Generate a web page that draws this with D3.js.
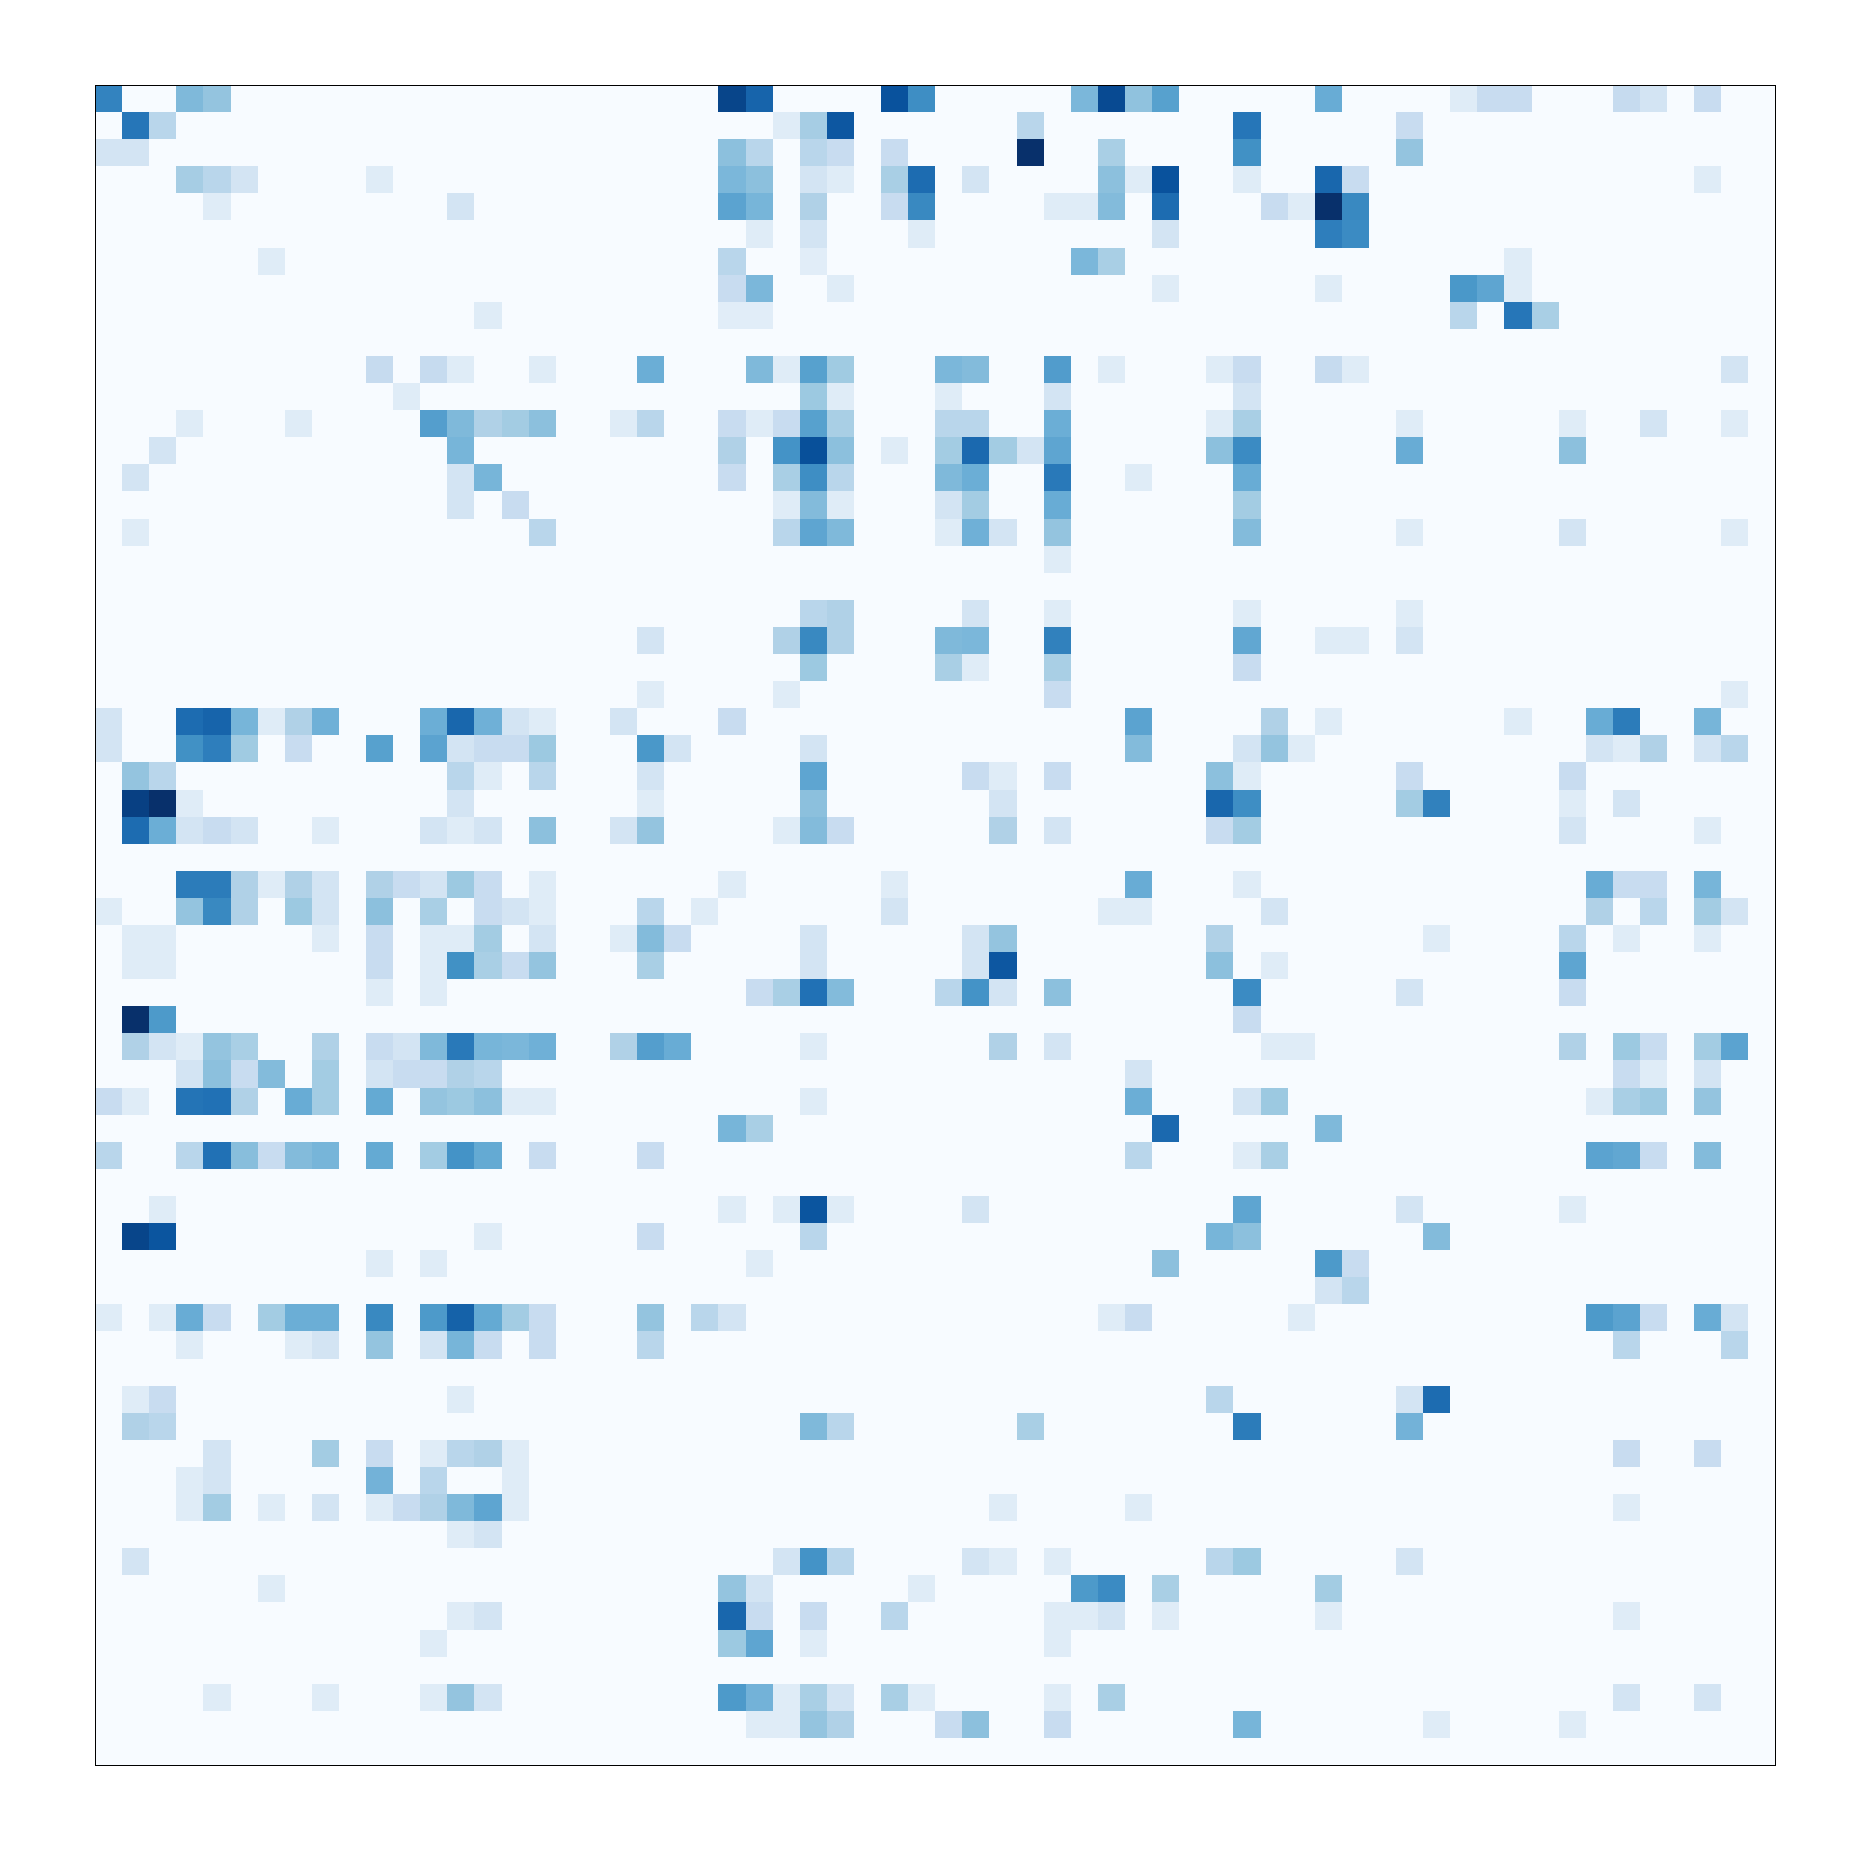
<!DOCTYPE html>
<meta charset="utf-8">
<style>
body { margin: 0; background: #fff; }
.cell { shape-rendering: crispEdges; }
.frame { fill: none; stroke: #000; stroke-width: 1px; }
</style>
<body>
<script src="https://d3js.org/d3.v7.min.js"></script>
<script>

// row and column ids, the axes carry no labels in the picture
const rowIds = d3.range(62),
      colIds = d3.range(62);

// same stops as the Blues colormap
const blues = ["#f7fbff", "#deebf7", "#c6dbef", "#9ecae1", "#6baed6", "#4292c6", "#2171b5", "#08519c", "#08306b"];

// sparse rows: [column, value] on a 0-100 scale, anything missing is 0
const values = [
  [[0,68],[3,45],[4,40],[23,92],[24,80],[29,87],[30,64],[36,46],[37,90],[38,41],[39,56],[45,51],[50,12],[51,24],[52,24],[56,25],[57,18],[59,24]],
  [[1,73],[2,29],[25,12],[26,35],[27,85],[34,29],[42,73],[48,24]],
  [[0,18],[1,18],[23,42],[24,29],[26,29],[27,24],[29,24],[34,100],[37,34],[42,63],[48,40]],
  [[3,35],[4,29],[5,18],[10,12],[23,46],[24,42],[26,18],[27,12],[29,34],[30,77],[32,18],[37,42],[38,12],[39,87],[42,12],[45,79],[46,24],[59,12]],
  [[4,12],[13,18],[23,55],[24,47],[26,32],[29,24],[30,66],[35,12],[36,12],[37,44],[39,77],[43,24],[44,12],[45,100],[46,66]],
  [[24,12],[26,18],[30,12],[39,18],[45,70],[46,65]],
  [[6,12],[23,29],[26,11],[36,46],[37,34],[52,12]],
  [[23,24],[24,46],[27,12],[39,12],[45,12],[50,60],[51,54],[52,12]],
  [[14,12],[23,11],[24,11],[50,29],[52,73],[53,34]],
  [],
  [[10,25],[12,25],[13,12],[16,12],[20,50],[24,45],[25,12],[26,56],[27,37],[31,46],[32,44],[35,58],[37,12],[41,12],[42,24],[45,25],[46,12],[60,18]],
  [[11,12],[26,38],[27,12],[31,12],[35,18],[42,18]],
  [[3,12],[7,12],[12,57],[13,45],[14,32],[15,36],[16,42],[19,12],[20,29],[23,24],[24,12],[25,24],[26,56],[27,34],[31,29],[32,29],[35,50],[41,12],[42,34],[48,12],[54,12],[57,18],[60,12]],
  [[2,18],[13,47],[23,32],[25,62],[26,88],[27,42],[29,12],[31,36],[32,78],[33,36],[34,18],[35,54],[41,42],[42,65],[48,51],[54,42]],
  [[1,18],[13,18],[14,47],[23,24],[25,34],[26,64],[27,29],[31,45],[32,50],[35,72],[38,12],[42,51]],
  [[13,18],[15,24],[25,12],[26,44],[27,12],[31,18],[32,36],[35,51],[42,36]],
  [[1,12],[16,29],[25,29],[26,54],[27,45],[31,12],[32,49],[33,18],[35,40],[42,44],[48,12],[54,18],[60,12]],
  [[35,12]],
  [],
  [[26,29],[27,32],[32,18],[35,12],[42,12],[48,12]],
  [[20,18],[25,32],[26,66],[27,32],[31,45],[32,46],[35,69],[42,53],[45,12],[46,12],[48,18]],
  [[26,38],[31,34],[32,12],[35,34],[42,24]],
  [[20,12],[25,12],[35,24],[60,12]],
  [[0,18],[3,77],[4,80],[5,47],[6,12],[7,32],[8,49],[12,50],[13,79],[14,49],[15,18],[16,12],[19,18],[23,24],[38,55],[43,32],[45,12],[52,12],[55,51],[56,71],[59,47]],
  [[0,18],[3,63],[4,70],[5,37],[7,24],[10,56],[12,55],[13,18],[14,24],[15,24],[16,38],[20,60],[21,18],[26,18],[38,44],[42,18],[43,40],[44,12],[55,18],[56,12],[57,32],[59,18],[60,29]],
  [[1,40],[2,29],[13,29],[14,12],[16,29],[20,18],[26,54],[32,24],[33,12],[35,24],[41,42],[42,12],[48,24],[54,24]],
  [[1,94],[2,100],[3,12],[13,18],[20,12],[26,42],[33,18],[41,79],[42,64],[48,36],[49,69],[54,12],[56,18]],
  [[1,77],[2,50],[3,18],[4,24],[5,18],[8,12],[12,18],[13,12],[14,18],[16,42],[19,18],[20,40],[25,12],[26,44],[27,24],[33,32],[35,18],[41,24],[42,36],[54,18],[59,12]],
  [],
  [[3,71],[4,71],[5,32],[6,12],[7,32],[8,18],[10,32],[11,24],[12,18],[13,38],[14,24],[16,12],[23,12],[29,12],[38,51],[42,12],[55,51],[56,24],[57,24],[59,47]],
  [[0,12],[3,40],[4,66],[5,32],[7,38],[8,18],[10,42],[12,34],[14,24],[15,18],[16,12],[20,29],[22,12],[29,18],[37,12],[38,12],[43,18],[55,32],[57,29],[59,36],[60,18]],
  [[1,12],[2,12],[8,12],[10,24],[12,12],[13,12],[14,36],[16,18],[19,12],[20,44],[21,24],[26,18],[32,18],[33,40],[41,32],[49,12],[54,29],[56,12],[59,12]],
  [[1,12],[2,12],[10,24],[12,12],[13,63],[14,34],[15,24],[16,40],[20,34],[26,18],[32,18],[33,85],[41,42],[43,12],[54,54]],
  [[10,12],[12,12],[24,24],[25,34],[26,75],[27,44],[31,29],[32,62],[33,18],[35,42],[42,65],[48,18],[54,24]],
  [[1,100],[2,59],[42,24]],
  [[1,32],[2,18],[3,12],[4,40],[5,34],[8,32],[10,24],[11,18],[12,45],[13,72],[14,47],[15,46],[16,49],[19,32],[20,57],[21,51],[26,12],[33,32],[35,18],[43,12],[44,12],[54,32],[56,38],[57,24],[59,36],[60,55]],
  [[3,18],[4,42],[5,24],[6,44],[8,36],[10,18],[11,24],[12,24],[13,32],[14,29],[38,18],[56,24],[57,12],[59,18]],
  [[0,24],[1,12],[3,74],[4,75],[5,32],[7,51],[8,36],[10,52],[12,40],[13,38],[14,42],[15,12],[16,12],[26,12],[38,50],[42,18],[43,38],[55,12],[56,34],[57,38],[59,40]],
  [[23,47],[24,34],[39,78],[45,45]],
  [[0,29],[3,29],[4,75],[5,43],[6,24],[7,44],[8,47],[10,52],[12,36],[13,62],[14,52],[16,24],[20,24],[38,29],[42,12],[43,34],[55,55],[56,53],[57,24],[59,44]],
  [],
  [[2,12],[23,12],[25,12],[26,86],[27,12],[32,18],[42,54],[48,18],[54,12]],
  [[1,92],[2,86],[14,12],[20,24],[26,29],[41,47],[42,42],[49,44]],
  [[10,12],[12,12],[24,12],[39,42],[45,59],[46,24]],
  [[45,18],[46,29]],
  [[0,12],[2,12],[3,51],[4,24],[6,36],[7,50],[8,50],[10,66],[12,59],[13,81],[14,52],[15,36],[16,24],[20,40],[22,29],[23,18],[37,12],[38,24],[44,12],[55,59],[56,55],[57,24],[59,51],[60,18]],
  [[3,12],[7,12],[8,18],[10,40],[12,18],[13,47],[14,24],[16,24],[20,29],[56,29],[60,29]],
  [],
  [[1,12],[2,24],[13,12],[41,29],[48,18],[49,77]],
  [[1,32],[2,29],[26,45],[27,29],[34,34],[42,71],[48,48]],
  [[4,18],[8,36],[10,24],[12,12],[13,29],[14,32],[15,12],[56,24],[59,24]],
  [[3,12],[4,18],[10,48],[12,29],[15,12]],
  [[3,12],[4,36],[6,12],[8,18],[10,12],[11,24],[12,32],[13,45],[14,54],[15,12],[33,12],[38,12],[56,12]],
  [[13,12],[14,18]],
  [[1,18],[25,18],[26,62],[27,29],[32,18],[33,12],[35,12],[41,29],[42,38],[48,18]],
  [[6,12],[23,40],[24,18],[30,12],[36,59],[37,65],[39,34],[45,36]],
  [[13,12],[14,18],[23,79],[24,24],[26,24],[29,29],[35,12],[36,12],[37,18],[39,12],[45,12],[56,12]],
  [[12,12],[23,38],[24,54],[26,12],[35,12]],
  [],
  [[4,12],[8,12],[12,12],[13,40],[14,18],[23,59],[24,48],[25,12],[26,34],[27,18],[29,34],[30,12],[35,12],[37,34],[56,18],[59,18]],
  [[24,12],[25,12],[26,40],[27,32],[31,24],[32,42],[35,24],[42,47],[49,12],[54,12]],
  []
];

let width = 1857,
    height = 1849,
    left = 95,
    right = 1775.5,
    top_ = 85,
    bottom = 1765;

let svg = d3.select("body").append("svg")
            .attr("width", width)
            .attr("height", height);

let x = d3.scaleBand().domain(colIds).range([left, right]),
    y = d3.scaleBand().domain(rowIds).range([top_, bottom]),
    color = d3.scaleLinear()
            .domain(blues.map((d, i) => i / (blues.length - 1) * 100))
            .range(blues);

// fill the sparse rows out to a full grid
let cells = [];
rowIds.forEach(r => {
    let row = new Map(values[r]);
    colIds.forEach(c => cells.push({row: r, col: c, value: row.get(c) || 0}));
});

svg.append("g")
    .selectAll("rect")
    .data(cells)
    .join("rect")
        .attr("class", "cell")
        .attr("x", d => x(d.col))
        .attr("y", d => y(d.row))
        .attr("width", x.bandwidth() + 0.5)
        .attr("height", y.bandwidth() + 0.5)
        .attr("fill", d => color(d.value));

// frame sits on the pixel grid, half a pixel in from the cells
svg.append("rect")
    .attr("class", "frame")
    .attr("x", 95.5)
    .attr("y", 85.5)
    .attr("width", 1680)
    .attr("height", 1680);

</script>
